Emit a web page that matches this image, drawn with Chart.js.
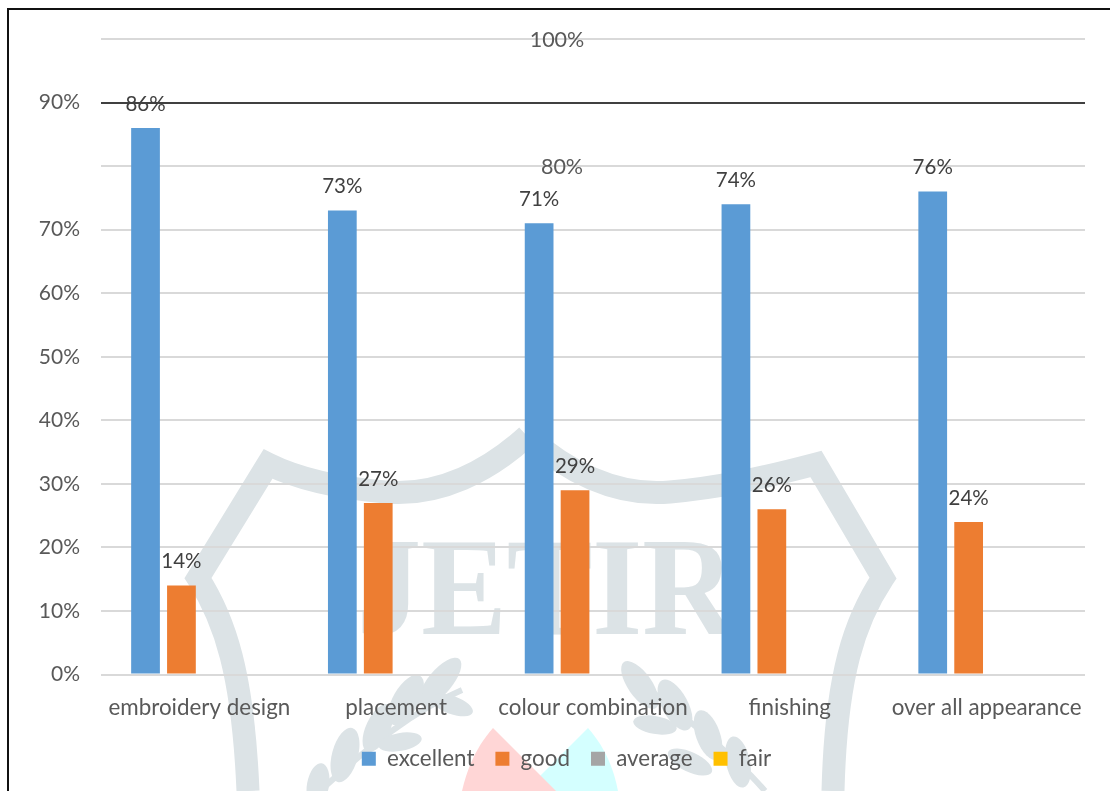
<!doctype html>
<html lang="en">
<head>
<meta charset="utf-8">
<title>Rating chart</title>
<script src="https://cdn.jsdelivr.net/npm/chart.js"></script>
<style>
  html, body { margin: 0; padding: 0; background: #fff; overflow: hidden; }
  #frame { position: absolute; left: 7px; top: 8px; width: 1200px; height: 900px; border: 2px solid #111; }
  #mark { position: absolute; left: 0; top: 0; }
  #chart { position: absolute; left: 0; top: 0; }
</style>
</head>
<body>
<!-- watermark behind the chart -->
<svg id="mark" width="1110" height="791" viewBox="0 0 1110 791">
  <path d="M588 728 L525 791 L618 791 C613 765 603 745 588 728 Z" fill="#d4ffff"/>
  <path d="M493 728 C478 745 468 765 462 791 L556 791 Z" fill="#ffd6d6"/>
  <path d="M527 436 C490 470 440 497 385 492 C340 488 300 480 268 464 L198 578 C225 620 243 674 248 791 M527 436 C565 470 615 497 670 492 C715 488 755 480 816 464 L883 578 C855 620 836 674 833 791"
        fill="none" stroke="#dce3e6" stroke-width="23" stroke-linejoin="miter"/>
  <text x="357" y="634" font-family="Liberation Serif" font-weight="bold" font-size="140" fill="#dce3e6" textLength="378" lengthAdjust="spacingAndGlyphs">JETIR</text>
  <g fill="#dce3e6">
    <path d="M320 791 C370 745 415 710 462 690" fill="none" stroke="#dce3e6" stroke-width="6"/>
    <ellipse cx="440" cy="682" rx="30" ry="12" transform="rotate(-50 440 682)"/>
    <ellipse cx="406" cy="700" rx="28" ry="13" transform="rotate(-60 406 700)"/>
    <ellipse cx="345" cy="755" rx="28" ry="13" transform="rotate(-75 345 755)"/>
    <ellipse cx="378" cy="728" rx="26" ry="12" transform="rotate(-65 378 728)"/>
    <ellipse cx="452" cy="705" rx="22" ry="9" transform="rotate(20 452 705)"/>
    <ellipse cx="400" cy="742" rx="22" ry="9" transform="rotate(-10 400 742)"/>
    <ellipse cx="318" cy="785" rx="22" ry="11" transform="rotate(-80 318 785)"/>
    <path d="M625 670 C680 715 730 750 765 791" fill="none" stroke="#dce3e6" stroke-width="6"/>
    <ellipse cx="640" cy="685" rx="28" ry="12" transform="rotate(55 640 685)"/>
    <ellipse cx="675" cy="705" rx="28" ry="13" transform="rotate(62 675 705)"/>
    <ellipse cx="708" cy="735" rx="26" ry="12" transform="rotate(70 708 735)"/>
    <ellipse cx="738" cy="762" rx="26" ry="12" transform="rotate(78 738 762)"/>
    <ellipse cx="655" cy="725" rx="22" ry="9" transform="rotate(10 655 725)"/>
    <ellipse cx="690" cy="762" rx="24" ry="10" transform="rotate(25 690 762)"/>
  </g>
</svg>
<div id="frame"></div>
<canvas id="chart" width="1110" height="791"></canvas>

<script>
var categories = ["embroidery design", "placement", "colour combination", "finishing", "over all appearance"];
var seriesNames = ["excellent", "good", "average", "fair"];
var excellent = [86, 73, 71, 74, 76];
var good = [14, 27, 29, 26, 24];
var average = [null, null, null, null, null];
var fair = [null, null, null, null, null];
var seriesColors = ["#5b9bd5", "#ed7d31", "#a5a5a5", "#ffc000"];
var darkTick = 90;        // this gridline is black in the picture
var strayTicks = [100, 80]; // these tick labels sit out in the plot

var font = "Lato";
var fontSize = 22.4;

// value labels over the bars, plus the two tick labels that are out of place
var labelPlugin = {
  id: "labelPlugin",
  afterLayout: function(chart) {
    // legend sits right of the canvas centre in the picture
    chart.legend.left += 14;
    chart.legend.right += 14;
  },
  afterDatasetsDraw: function(chart) {
    var ctx = chart.ctx;
    ctx.save();
    ctx.font = "20.5px " + font;
    ctx.textAlign = "center";
    ctx.textBaseline = "middle";
    ctx.fillStyle = "#404040";
    chart.data.datasets.forEach(function(ds, i) {
      chart.getDatasetMeta(i).data.forEach(function(bar, j) {
        if (ds.data[j] === null) return;
        ctx.fillText(ds.data[j] + "%", bar.x, bar.y - 24);
      });
    });
    ctx.font = "21.5px " + font;
    ctx.fillStyle = "#595959";
    var y = chart.scales.y;
    ctx.fillText(strayTicks[0] + "%", 557, y.getPixelForValue(strayTicks[0]) + 1);
    ctx.fillText(strayTicks[1] + "%", 562, y.getPixelForValue(strayTicks[1]) + 1);
    ctx.restore();
  }
};

new Chart(document.getElementById("chart"), {
  type: "bar",
  data: {
    labels: categories,
    datasets: [
      { label: seriesNames[0], data: excellent, backgroundColor: seriesColors[0] },
      { label: seriesNames[1], data: good, backgroundColor: seriesColors[1] },
      { label: seriesNames[2], data: average, backgroundColor: seriesColors[2] },
      { label: seriesNames[3], data: fair, backgroundColor: seriesColors[3] }
    ]
  },
  options: {
    responsive: false,
    animation: false,
    barPercentage: 0.8,
    categoryPercentage: 0.73,
    layout: { padding: { left: 20, right: 25, top: 39, bottom: 11 } },
    plugins: {
      tooltip: { enabled: false },
      legend: {
        position: "bottom",
        labels: {
          boxWidth: 14,
          boxHeight: 14,
          padding: 21,
          color: "#595959",
          font: { family: font, size: fontSize }
        }
      }
    },
    scales: {
      x: {
        afterFit: function(scale) { scale.height = 52; },
        grid: { display: false },
        border: { display: false },
        ticks: { color: "#595959", font: { family: font, size: fontSize }, padding: 12, maxRotation: 0, autoSkip: false }
      },
      y: {
        min: 0,
        max: 100,
        afterFit: function(scale) { scale.width = 81; },
        grid: {
          drawTicks: false,
          lineWidth: 2,
          color: function(c) { return c.tick.value === darkTick ? "#404040" : "#d9d9d9"; }
        },
        border: { display: false },
        ticks: {
          stepSize: 10,
          padding: 21,
          color: "#595959",
          font: { family: font, size: 21 },
          callback: function(v) { return strayTicks.indexOf(v) >= 0 ? "" : v + "%"; }
        }
      }
    }
  },
  plugins: [labelPlugin]
});
</script>
</body>
</html>
